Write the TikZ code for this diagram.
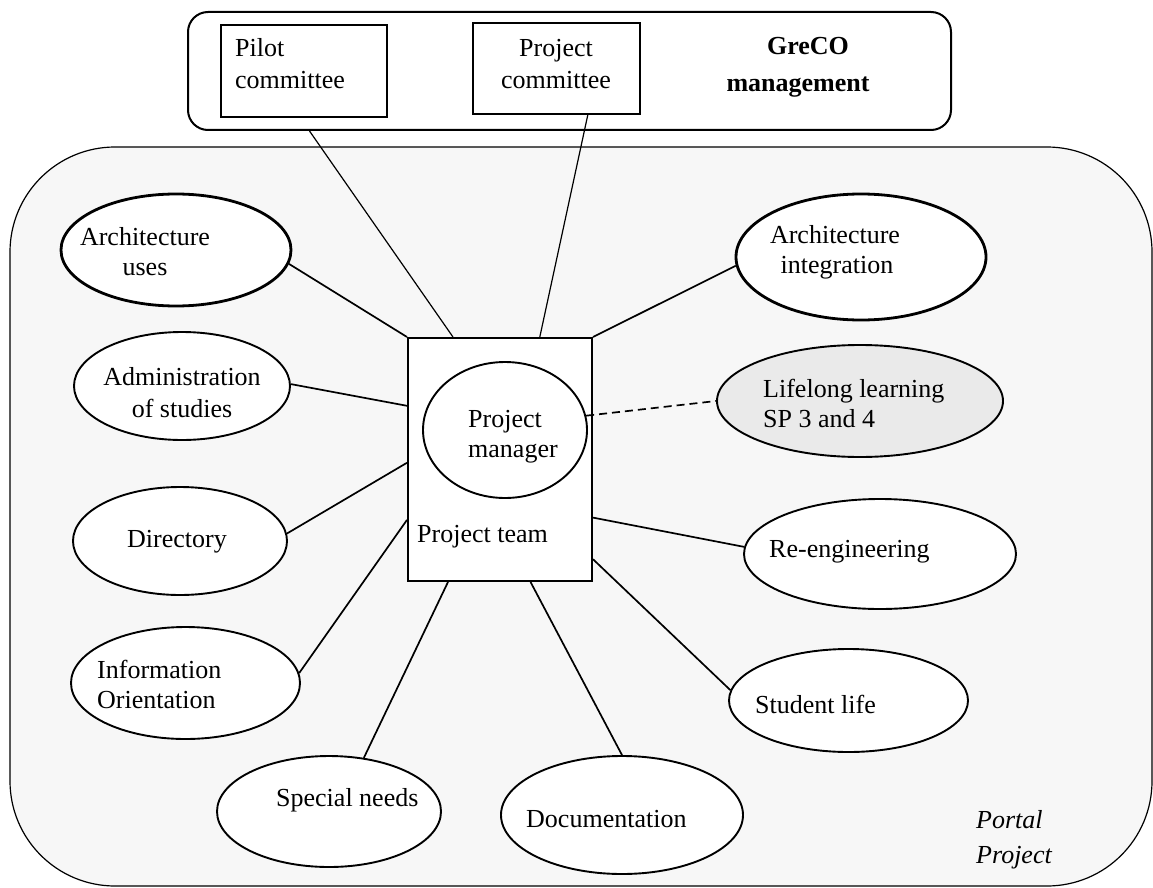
\documentclass[tikz,border=0pt]{standalone}
\usepackage{fontspec}
\setmainfont{Liberation Serif}
\usetikzlibrary{shapes.geometric}

\definecolor{portalbg}{HTML}{F7F7F7}
\definecolor{llfill}{HTML}{EAEAEA}

\begin{document}
\begin{tikzpicture}[x=1pt,y=-1pt,
  lbl/.style={inner sep=0pt, font=\fontsize{26}{30}\selectfont},
  oval/.style={ellipse, draw, fill=white, line width=1.9pt, inner sep=0pt},
  archoval/.style={oval, line width=2.8pt},
  link/.style={line width=1.7pt},
  thinlink/.style={line width=1.2pt},
  box/.style={rectangle, draw, fill=white, line width=1.8pt, inner sep=0pt},
]
\useasboundingbox (0,0) rectangle (1153,888);

% Portal project area
\node[draw, fill=portalbg, rounded corners=105pt, line width=1.2pt,
      minimum width=1142pt, minimum height=739pt, inner sep=0pt] (portal) at (581,516.5) {};

% GreCO management block
\node[draw, fill=white, rounded corners=20pt, line width=2pt,
      minimum width=763pt, minimum height=118pt, inner sep=0pt] (mgmt) at (569.5,71) {};
\node[box, minimum width=166pt, minimum height=92pt] (pilot) at (304,71) {};
\node[box, minimum width=167pt, minimum height=91pt] (projc) at (556.5,68.5) {};
\node[lbl, anchor=base west] (pilotA) at (235,57) {Pilot};
\node[lbl, anchor=base west] (pilotB) at (235,89) {committee};
\node[lbl, anchor=base] (projcA) at (556,57) {Project};
\node[lbl, anchor=base] (projcB) at (556,89) {committee};
\node[lbl, anchor=base, font=\fontsize{26}{30}\selectfont\bfseries] (grecoA) at (808,55) {GreCO};
\node[lbl, anchor=base, font=\fontsize{26}{30}\selectfont\bfseries] (grecoB) at (798,92) {management};

% Project team and manager
\node[box, line width=2pt, minimum width=184pt, minimum height=243pt] (team) at (500,459.5) {};
\node[oval, minimum width=164pt, minimum height=136pt] (pm) at (505,430) {};
\node[lbl, anchor=base west] (pmA) at (468,427) {Project};
\node[lbl, anchor=base west] (pmB) at (468,457) {manager};
\node[lbl, anchor=base west] (teamlbl) at (417,542) {Project team};

% Sub-projects
\node[archoval, minimum width=230pt, minimum height=112pt] (au) at (176,250) {};
\node[lbl, anchor=base] (auA) at (145,245) {Architecture};
\node[lbl, anchor=base] (auB) at (145,275) {uses};

\node[oval, minimum width=216pt, minimum height=108pt] (ad) at (182,386) {};
\node[lbl, anchor=base] (adA) at (182,385) {Administration};
\node[lbl, anchor=base] (adB) at (182,417) {of studies};

\node[oval, minimum width=214pt, minimum height=108pt] (dir) at (180,541) {};
\node[lbl, anchor=base] (dirA) at (177,547) {Directory};

\node[oval, minimum width=229pt, minimum height=112pt] (inf) at (185.5,683) {};
\node[lbl, anchor=base west] (infA) at (97,678) {Information};
\node[lbl, anchor=base west] (infB) at (97,708) {Orientation};

\node[oval, minimum width=224pt, minimum height=111pt] (sp) at (329,811.5) {};
\node[lbl, anchor=base west] (spA) at (276,806) {Special needs};

\node[oval, minimum width=242pt, minimum height=118pt] (doc) at (622,815) {};
\node[lbl, anchor=base west] (docA) at (526,827) {Documentation};

\node[oval, minimum width=239pt, minimum height=103pt] (st) at (848.5,700.5) {};
\node[lbl, anchor=base west] (stA) at (755,713) {Student life};

\node[oval, minimum width=272pt, minimum height=110pt] (re) at (880,554) {};
\node[lbl, anchor=base west] (reA) at (769,557) {Re-engineering};

\node[oval, fill=llfill, minimum width=286pt, minimum height=112pt] (ll) at (860,401) {};
\node[lbl, anchor=base west] (llA) at (763,397) {Lifelong learning};
\node[lbl, anchor=base west] (llB) at (763,427) {SP 3 and 4};

\node[archoval, minimum width=250pt, minimum height=126pt] (ai) at (861,257) {};
\node[lbl, anchor=base] (aiA) at (835,243) {Architecture};
\node[lbl, anchor=base] (aiB) at (837,273) {integration};

\node[lbl, anchor=base west, font=\fontsize{26}{30}\selectfont\itshape] (ppA) at (976,828) {Portal};
\node[lbl, anchor=base west, font=\fontsize{26}{30}\selectfont\itshape] (ppB) at (976,863) {Project};

% Links to the management
\draw[thinlink] (mgmt.193.4) -- (team.111.1);
\draw[thinlink] (projc.304.7) -- (team.72.2);

% Links to the sub-projects
\draw[link] (au.-7.8) -- (team.north west);
\draw[link] (ad.1.6) -- (team.150.8);
\draw[link] (dir.4.8) -- (team.182);
\draw[link] (inf.5.7) -- (team.213.6);
\draw[link] (sp.57.1) -- (team.247.6);
\draw[link] (doc.north) -- (team.284.3);
\draw[link] (st.175.8) -- (team.313);
\draw[link] (re.177.5) -- (team.328.9);
\draw[link] (ai.184.6) -- (team.north east);
\draw[link, dash pattern=on 8pt off 5pt] (pm.10.4) -- (ll.west);
\end{tikzpicture}
\end{document}
